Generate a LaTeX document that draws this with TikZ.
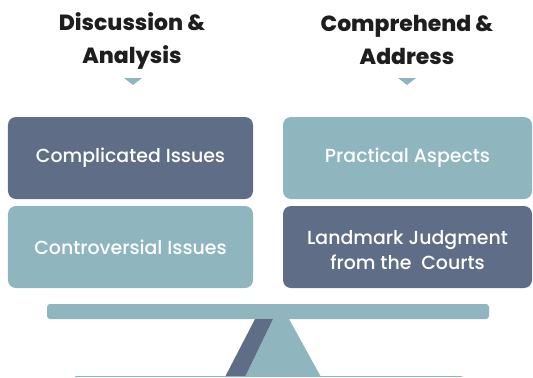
\documentclass[tikz,border=0pt]{standalone}
\usepackage{fontspec}
\setmainfont{Poppins}
\newfontfamily\headfont{Poppins ExtraBold}
\newfontfamily\boxfont{Poppins Medium}
\definecolor{darkslate}{HTML}{5F6E86}
\definecolor{lightteal}{HTML}{8FB5BE}
\definecolor{headblack}{HTML}{1E1E1E}
\begin{document}
\begin{tikzpicture}[x=1bp,y=-1bp,
  card/.style={rounded corners=8bp, minimum width=245bp, minimum height=82bp, inner sep=0pt,
    text=white, font=\boxfont\fontsize{19}{25}\selectfont, align=center},
  darkcard/.style={card, fill=darkslate},
  lightcard/.style={card, fill=lightteal},
  heading/.style={font=\headfont\fontsize{22}{33}\selectfont, text=headblack, align=center},
  marker/.style={fill=lightteal}]
\useasboundingbox (0,0) rectangle (533,377);
\node[heading] (h1) at (132,41) {Discussion \&\\Analysis};
\node[heading] (h2) at (407,40) {Comprehend \&\\Address};
\fill[marker] (124,78) -- (142,78) -- (133,85) -- cycle;
\fill[marker] (398,78) -- (416,78) -- (407,85) -- cycle;
\node[darkcard] (c1) at (130.5,158) {Complicated Issues};
\node[lightcard] (c2) at (130.5,247) {Controversial Issues};
\node[lightcard, minimum width=249bp] (c3) at (407.5,158) {Practical Aspects};
\node[darkcard, minimum width=249bp] (c4) at (407.5,247) {\rule{0pt}{20bp}Landmark Judgment\\from the\ \ Courts};
\fill[lightteal, rounded corners=3bp] (47,304) rectangle (489,319);
\fill[lightteal] (273,319) -- (289,319) -- (321,377) -- (245,377) -- cycle;
\fill[darkslate] (255,319) -- (273,319) -- (245,377) -- (225,377) -- cycle;
\fill[lightteal] (75,375.5) rectangle (462,377);
\end{tikzpicture}
\end{document}
